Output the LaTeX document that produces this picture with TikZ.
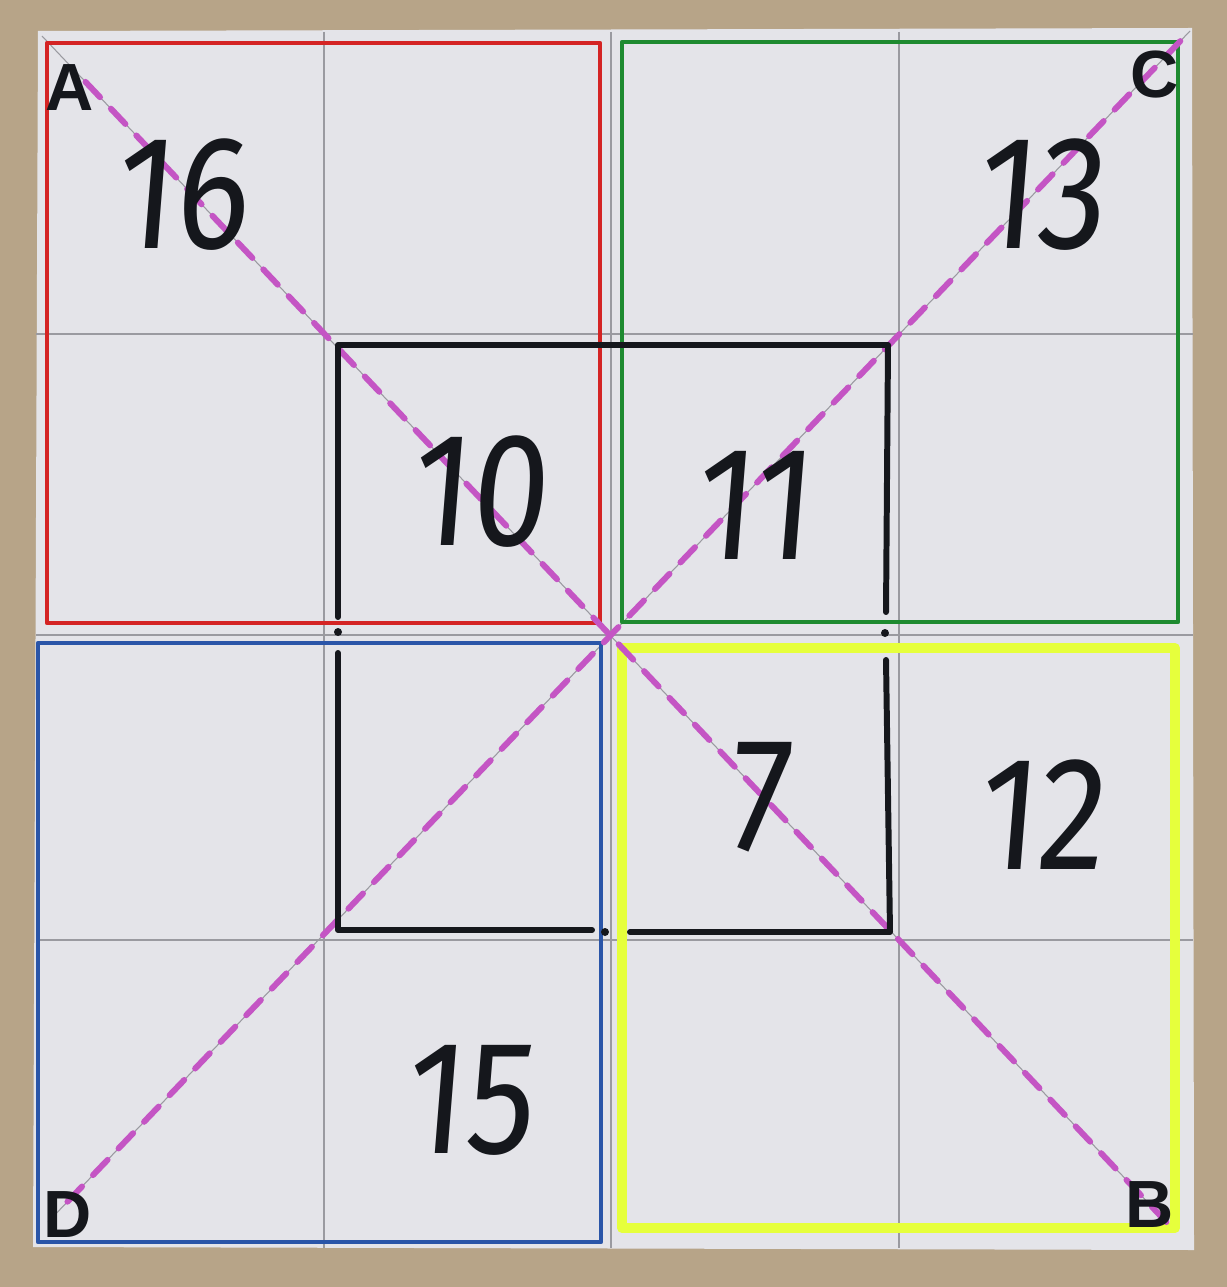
\documentclass[tikz,border=0pt]{standalone}
\usepackage{fontspec}
\setsansfont{Liberation Sans}
\newfontfamily\handfont{Fira Sans}[FakeStretch=0.85, FakeSlant=0.08]
\definecolor{cardboard}{HTML}{B7A488}
\definecolor{paper}{HTML}{E4E4E9}
\definecolor{pencil}{HTML}{9A9AA0}
\definecolor{redpen}{HTML}{D42424}
\definecolor{greenpen}{HTML}{1E8A30}
\definecolor{bluepen}{HTML}{2A55A8}
\definecolor{neon}{HTML}{E6FF3C}
\definecolor{pinkpen}{HTML}{C455C4}
\definecolor{inkpen}{HTML}{15171C}
\tikzset{
  gridline/.style = {pencil, line width=0.3pt},
  marker/.style = {line width=1.2pt, line cap=round, line join=round},
  blackpen/.style = {inkpen, line width=1.7pt, line cap=round, line join=round},
  diagdash/.style = {pinkpen, line width=1.7pt, line cap=round, dash pattern=on 6pt off 4.5pt},
  num/.style = {inkpen, font=\fontsize{46}{46}\selectfont\handfont},
  corner/.style = {inkpen, font=\fontsize{19}{19}\selectfont\sffamily\bfseries}
}
\begin{document}
\begin{tikzpicture} [x=0.1mm, y=-0.1mm]
	% cardboard and sheet
	\fill [cardboard] (0,0) rectangle (1227,1287);
	\fill [paper] (38,31) -- (1192,28) -- (1194,1250) -- (33,1247) -- cycle;
	% pencil grid
	\foreach \x in {324,611,899}
		\draw [gridline] (\x,32) -- (\x,1248);
	\foreach \y in {334,635,940}
		\draw [gridline] (36,\y) -- (1193,\y);
	% corners of the diagonals
	\coordinate (A) at (42,36);
	\coordinate (B) at (1172,1228);
	\coordinate (C) at (1190,31);
	\coordinate (D) at (48,1222);
	\draw [gridline] (A) -- (B);
	\draw [gridline] (D) -- (C);
	% coloured squares
	\draw [marker, redpen] (47,43) rectangle (600,623);
	\draw [marker, greenpen] (622,42) rectangle (1178,622);
	\draw [marker, bluepen] (38,643) rectangle (601,1242);
	\draw [neon, line width=2.8pt, line join=round] (622,648) rectangle (1175,1228);
	% dashed diagonals
	\draw [diagdash, shorten <=18pt, shorten >=0pt] (A) -- (B);
	\draw [diagdash, shorten <=8pt, shorten >=3pt] (D) -- (C);
	% black square with gaps
	\draw [blackpen] (338,617) -- (338,345) -- (888,345) -- (886,612);
	\draw [blackpen] (886,660) -- (890,932) -- (630,932);
	\draw [blackpen] (592,930) -- (338,930) -- (338,653);
	\fill [inkpen] (338,632) circle (4);
	\fill [inkpen] (885,633) circle (4);
	\fill [inkpen] (605,932) circle (4);
	% numbers
	\node [num] (n16) at (180,195) {16};
	\node [num] (n13) at (1040,195) {13};
	\node [num] (n10) at (478,492) {10};
	\node [num] (n11) at (752,505) {11};
	\node [num] (n7) at (757,797) {7};
	\node [num] (n12) at (1040,815) {12};
	\node [num] (n15) at (468,1100) {15};
	% corner letters
	\node [corner] (lA) at (70,88) {A};
	\node [corner] (lC) at (1155,75) {C};
	\node [corner] (lD) at (68,1215) {D};
	\node [corner] (lB) at (1150,1205) {B};
\end{tikzpicture}
\end{document}
